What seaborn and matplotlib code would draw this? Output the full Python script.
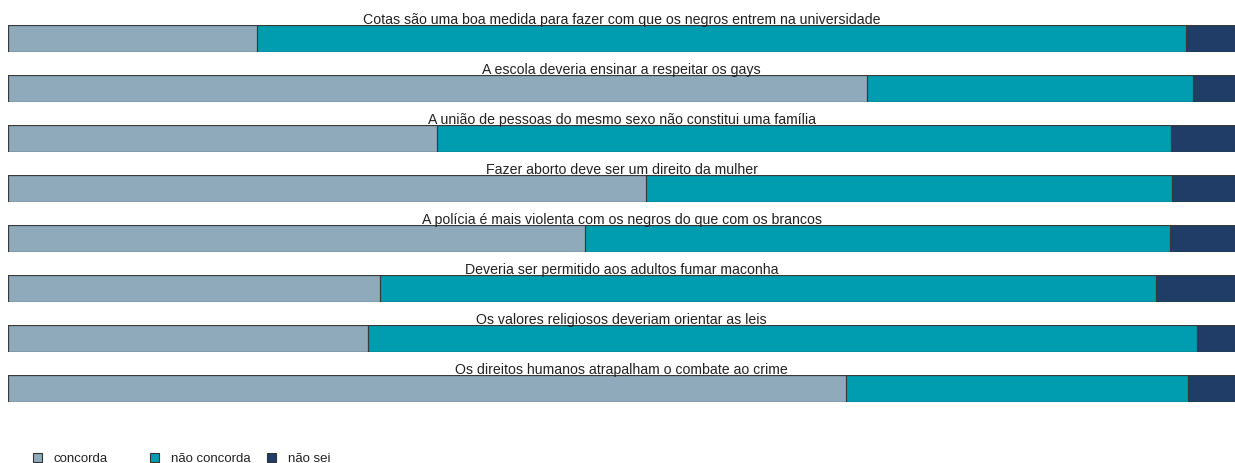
import numpy as np
import pandas as pd
import seaborn as sns
import matplotlib.pyplot as plt
from matplotlib.patches import Patch

questions = ['Cotas são uma boa medida para fazer com que os negros entrem na universidade',
             'A escola deveria ensinar a respeitar os gays',
             'A união de pessoas do mesmo sexo não constitui uma família',
             'Fazer aborto deve ser um direito da mulher',
             'A polícia é mais violenta com os negros do que com os brancos',
             'Deveria ser permitido aos adultos fumar maconha',
             'Os valores religiosos deveriam orientar as leis',
             'Os direitos humanos atrapalham o combate ao crime']
concorda = [20.3, 70.0, 35.0, 52.0, 47.0, 30.3, 29.3, 68.3]
nao_concorda = [75.7, 26.6, 59.8, 42.9, 47.7, 63.3, 67.6, 27.9]
nao_sei = [4.0, 3.4, 5.2, 5.1, 5.3, 6.4, 3.1, 3.8]

labels = ['concorda', 'não concorda', 'não sei']
colors = ['#8FAABB', '#009DB0', '#1F3D66']

sns.set_theme(style='white')
plt.rcParams['font.family'] = ['Liberation Sans', 'DejaVu Sans']

W, H = 1235, 463
fig = plt.figure(figsize=(W / 100, H / 100), dpi=100)

df = pd.DataFrame({'q': questions, 'c': concorda, 'nc': nao_concorda, 'ns': nao_sei})
df['cum_nc'] = df['c'] + df['nc']
df['cum_ns'] = df['cum_nc'] + df['ns']

x0 = 8
for i, row in df.iterrows():
    top = 25 + 50 * i
    ax = fig.add_axes([x0 / W, 1 - (top + 27) / H, (W - x0) / W, 27 / H])
    one = df.iloc[[i]]
    # draw cumulative bars back to front
    for col, c in zip(['cum_ns', 'cum_nc', 'c'], colors[::-1]):
        sns.barplot(data=one, x=col, y='q', color=c, width=1.0, ax=ax,
                    edgecolor='#3a3a3a', linewidth=0.9, saturation=1)
    ax.set_xlim(0, row['cum_ns'])
    ax.set_ylim(0.5, -0.5)
    ax.axis('off')
    ax.set_title(row['q'], fontsize=10.2, pad=0.5, color='#222222')

# legend entries at fixed spots like the original
for lab, c, xp in zip(labels, colors, [21, 138, 255]):
    h = Patch(facecolor=c, edgecolor='#333333', linewidth=0.8)
    fig.legend([h], [lab], loc='lower left', bbox_to_anchor=(xp / W, -0.03),
               frameon=False, fontsize=9.5, handlelength=0.7, handleheight=0.7,
               handletextpad=0.9, labelcolor='#222222')

fig.savefig('out.png', dpi=100)
